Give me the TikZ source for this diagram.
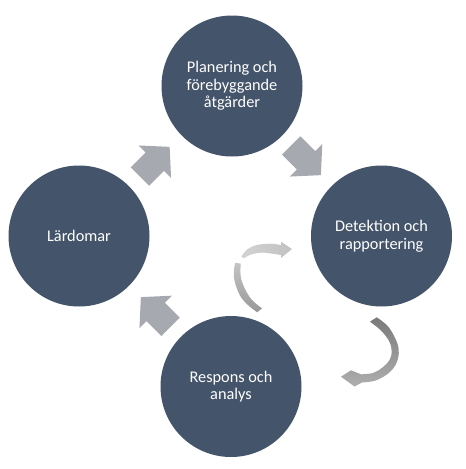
\documentclass[tikz,border=0pt]{standalone}
\usepackage{fontspec}
\setmainfont{Carlito}
\usetikzlibrary{calc}
\definecolor{slate}{HTML}{44546A}
\definecolor{blockgray}{HTML}{A7A9B0}
\definecolor{curveAtop}{HTML}{7A7A7A}
\definecolor{curveAbot}{HTML}{AEAEAE}
\definecolor{curveBlowtop}{HTML}{C4C4C4}
\definecolor{curveBlowbot}{HTML}{989898}
\definecolor{curveBupleft}{HTML}{D2D2D2}
\definecolor{curveBupright}{HTML}{C2C2C2}
\begin{document}
\begin{tikzpicture}[x=1pt,y=-1pt,
  stage/.style={circle,fill=slate,minimum size=141pt,inner sep=0pt,text=white,align=center,
    font=\fontsize{16.3}{17.6}\selectfont},
  blockarrow/.pic={\fill[blockgray] (-22,-13) -- (-1,-13) -- (-1,-23) -- (20,0) -- (-1,23) -- (-1,13) -- (-22,13) -- cycle;}
]
\fill[white] (0,0) rectangle (466,469);
\useasboundingbox (0,0) rectangle (466,469);

\node[stage] (plan) at (232,86) {Planering och\\förebyggande\\åtgärder};
\node[stage] (lard) at (79,236) {Lärdomar};
\node[stage] (det)  at (381.5,236) {Detektion och\\rapportering};
\node[stage] (resp) at (231,386.5) {Respons och\\analys};

\pic[rotate=45]  at ($(lard)!0.5!(plan)$) {blockarrow};
\pic[rotate=-45] at ($(plan)!0.5!(det)$) {blockarrow};
\pic[rotate=135] at ($(resp)!0.5!(lard)$) {blockarrow};

% curved arrow from Detektion down to Respons
\shade[top color=curveAtop,bottom color=curveAbot]
  plot[smooth,tension=0.6] coordinates {(376.7,317.3) (388.3,326.7) (396.7,341.7) (398.8,353.3) (395.5,365) (387.5,374) (375,380.7) (362,382.5)}
  -- (354.5,386.5) -- (341,376.7) -- (351,370.3)
  -- plot[smooth,tension=0.6] coordinates {(361,374.3) (373,373) (382.5,367.5) (389.5,360) (391.7,352) (389.5,342) (381.5,331) (370,321.7)}
  -- cycle;

% curved arrow from Respons back to Detektion (lower part)
\shade[top color=curveBlowtop,bottom color=curveBlowbot]
  plot[smooth,tension=0.6] coordinates {(257.3,312.3) (248,305) (239.7,295) (234,278) (235,263)}
  -- plot[smooth,tension=0.6] coordinates {(240.7,263.5) (240.8,277) (245,289) (252,300) (262,308.3)}
  -- cycle;
% upper part with head
\shade[left color=curveBupleft,right color=curveBupright]
  plot[smooth,tension=0.6] coordinates {(241.3,256.7) (247,249.5) (256,245.2) (266,243.8) (275,244) (281,245.3)}
  -- (281,241.7) -- (292,249) -- (281,258)
  -- plot[smooth,tension=0.6] coordinates {(281,255) (273,253.8) (262,252.6) (251,254.5) (244,258.3)}
  -- cycle;
\end{tikzpicture}
\end{document}
